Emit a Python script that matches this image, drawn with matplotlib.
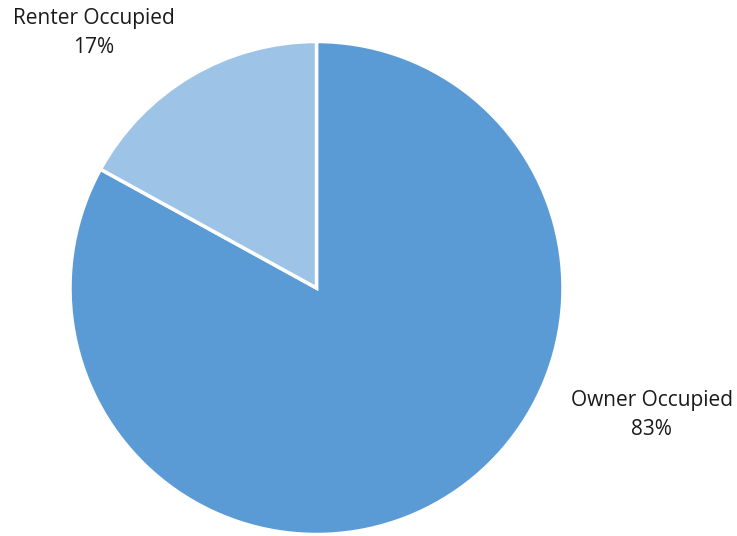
import matplotlib
matplotlib.use("Agg")
import matplotlib.pyplot as plt

categories = ["Owner Occupied", "Renter Occupied"]
shares = [83, 17]
colors = ["#5B9BD5", "#9DC3E6"]

W, H = 737, 536
cx, cy, r = 316.5, 288.0, 246.5  # pie centre and radius in pixels

fig = plt.figure(figsize=(W / 100, H / 100), dpi=100)
ax = fig.add_axes([0, 0, 1, 1])

ax.pie(shares, colors=colors, startangle=90, counterclock=False,
       radius=1.0, center=(0, 0), frame=True,
       wedgeprops=dict(edgecolor="white", linewidth=2.5))
ax.set_xlim(-cx / r, (W - cx) / r)
ax.set_ylim(-(H - cy) / r, cy / r)
ax.set_aspect("auto")
ax.axis("off")

label_pos = {"Owner Occupied": (1.36, -0.515), "Renter Occupied": (-0.905, 1.035)}
for name, val in zip(categories, shares):
    x, y = label_pos[name]
    ax.text(x, y, f"{name}\n{val}%", ha="center", va="center",
            fontsize=15, family=["Open Sans", "DejaVu Sans"],
            color="#1a1a1a", linespacing=1.5)

fig.savefig("out.png", dpi=100, facecolor="white")
